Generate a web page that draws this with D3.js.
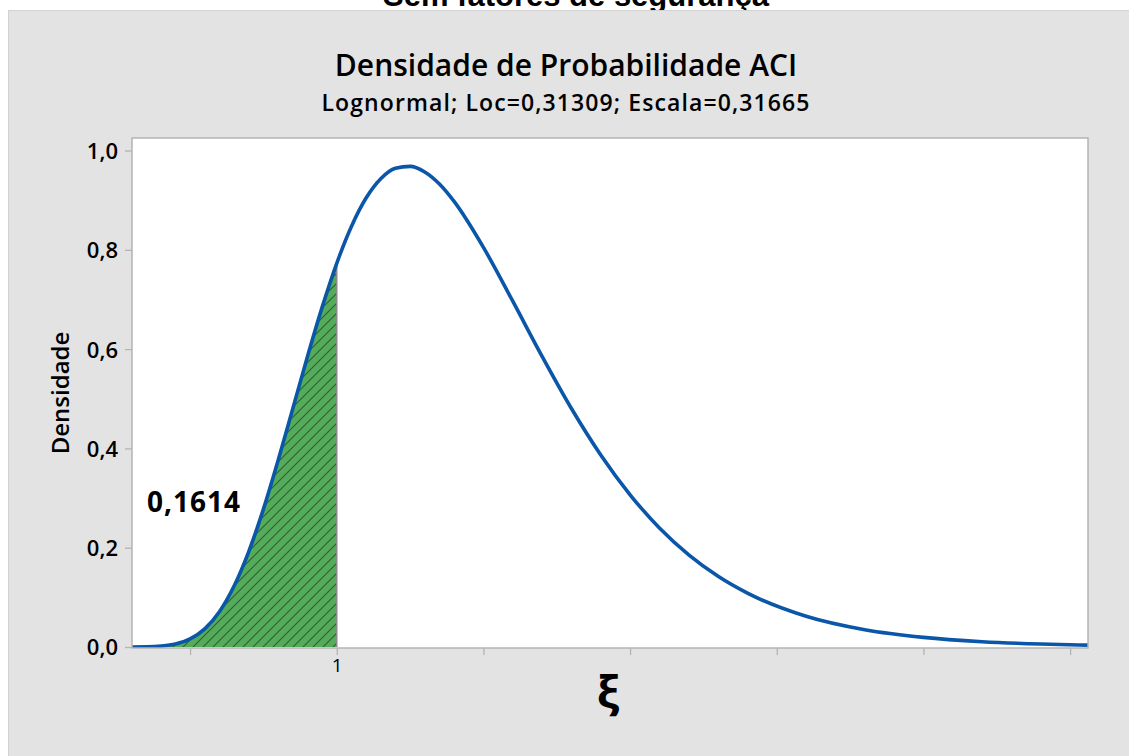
<!DOCTYPE html>
<html>
<head>
<meta charset="utf-8">
<script src="https://cdn.jsdelivr.net/npm/d3@7/dist/d3.min.js"></script>
<style>
  html, body { margin: 0; padding: 0; background: #ffffff; }
  svg { display: block; }
</style>
</head>
<body>
<svg id="chart" width="1129" height="756"></svg>
<script>
// Lognormal density curve (x = ξ, y = density)
const xValues = [0.302, 0.35, 0.40, 0.45, 0.50, 0.55, 0.60, 0.65, 0.70, 0.75, 0.80, 0.85, 0.90, 0.95, 1.00,
                 1.05, 1.10, 1.15, 1.20, 1.25, 1.30, 1.35, 1.40, 1.50, 1.60, 1.70, 1.80, 1.90, 2.00,
                 2.10, 2.20, 2.30, 2.40, 2.60, 2.80, 3.00, 3.20, 3.40, 3.561];
const densityValues = [0.0000, 0.0003, 0.0017, 0.0059, 0.0162, 0.0366, 0.0711, 0.1228, 0.1922, 0.2777, 0.3754, 0.4798, 0.5847, 0.6840, 0.7728,
                       0.8470, 0.9042, 0.9431, 0.9641, 0.9681, 0.9568, 0.9325, 0.8975, 0.8049, 0.6965, 0.5854, 0.4804, 0.3868, 0.3066,
                       0.2398, 0.1856, 0.1424, 0.1085, 0.0619, 0.0348, 0.0194, 0.0107, 0.0059, 0.0037];
const shadedLimit = 1.0;
const shadedArea = "0,1614";
const yTicks = [0, 0.2, 0.4, 0.6, 0.8, 1.0];
const xTicks = [0.5, 1.0, 1.5, 2.0, 2.5, 3.0, 3.5];
const xTickLabels = ["", "1", "", "", "", "", ""];

const svg = d3.select("#chart");
const W = 1129, H = 756;
const plot = { left: 132, top: 138, right: 1088, bottom: 648 };
const font = "Open Sans, sans-serif";

// Outer heading, partly hidden behind the panel
svg.append("text").attr("x", 576).attr("y", 6)
  .attr("text-anchor", "middle").attr("font-family", "Liberation Sans, Arial, sans-serif")
  .attr("font-weight", "bold").attr("font-size", 31).attr("fill", "#000")
  .text("Sem fatores de segurança");

// Panel
svg.append("rect").attr("x", 8.5).attr("y", 10.5).attr("width", W - 8).attr("height", H - 10)
  .attr("fill", "#e3e3e3").attr("stroke", "#d2d2d2").attr("stroke-width", 1);

const x = d3.scaleLinear().domain([0.302, 3.561]).range([plot.left, plot.right]);
const y = d3.scaleLinear().domain([0, 1]).range([647, 150.5]);

// Plot background
svg.append("rect").attr("x", plot.left).attr("y", plot.top)
  .attr("width", plot.right - plot.left).attr("height", plot.bottom - plot.top)
  .attr("fill", "#ffffff");

// Hatch pattern for the shaded tail
const defs = svg.append("defs");
const pat = defs.append("pattern").attr("id", "hatch").attr("patternUnits", "userSpaceOnUse")
  .attr("width", 10).attr("height", 10);
pat.append("rect").attr("width", 10).attr("height", 10).attr("fill", "#52ad58");
pat.append("path").attr("d", "M-2,2 L2,-2 M0,10 L10,0 M8,12 L12,8")
  .attr("stroke", "#474d47").attr("stroke-width", 1.1);
defs.append("clipPath").attr("id", "plotClip").append("rect")
  .attr("x", plot.left).attr("y", plot.top)
  .attr("width", plot.right - plot.left).attr("height", plot.bottom - plot.top);

const data = xValues.map((v, i) => ({ x: v, y: densityValues[i] }));
const tail = data.filter(d => d.x <= shadedLimit);

const g = svg.append("g").attr("clip-path", "url(#plotClip)");

g.append("path").datum(tail)
  .attr("d", d3.area().x(d => x(d.x)).y0(y(0)).y1(d => y(d.y)).curve(d3.curveMonotoneX))
  .attr("fill", "url(#hatch)");
g.append("line").attr("x1", x(shadedLimit)).attr("x2", x(shadedLimit))
  .attr("y1", y(0)).attr("y2", y(tail[tail.length - 1].y))
  .attr("stroke", "#8a8a8a").attr("stroke-width", 1.5);

g.append("path").datum(data)
  .attr("d", d3.line().x(d => x(d.x)).y(d => y(d.y)).curve(d3.curveMonotoneX))
  .attr("fill", "none").attr("stroke", "#0a56a8").attr("stroke-width", 3.6)
  .attr("stroke-linejoin", "round");

// Axes
const axisColor = "#b4b4b4";
const yAxis = svg.append("g").attr("transform", `translate(${plot.left},0)`)
  .call(d3.axisLeft(y).tickValues(yTicks).tickSize(7).tickPadding(7)
    .tickFormat(d => d3.format(".1f")(d).replace(".", ",")));
const xAxis = svg.append("g").attr("transform", `translate(0,${plot.bottom})`)
  .call(d3.axisBottom(x).tickValues(xTicks).tickSize(7).tickPadding(4)
    .tickFormat((d, i) => xTickLabels[i]));
[yAxis, xAxis].forEach(a => {
  a.select(".domain").remove();
  a.selectAll(".tick line").attr("stroke", axisColor).attr("stroke-width", 1.3);
});
yAxis.selectAll("text").attr("font-family", font).attr("font-weight", 600)
  .attr("font-size", 22).attr("fill", "#000").attr("dy", "0.36em");
xAxis.selectAll("text").attr("font-family", font)
  .attr("font-size", 19).attr("fill", "#000");

// Plot border
svg.append("rect").attr("x", plot.left).attr("y", plot.top)
  .attr("width", plot.right - plot.left).attr("height", plot.bottom - plot.top)
  .attr("fill", "none").attr("stroke", axisColor).attr("stroke-width", 1.5);

// Titles
svg.append("text").attr("x", 566).attr("y", 76).attr("text-anchor", "middle")
  .attr("font-family", font).attr("font-weight", 600).attr("font-size", 30)
  .attr("fill", "#000").text("Densidade de Probabilidade ACI");
svg.append("text").attr("x", 566).attr("y", 111).attr("text-anchor", "middle")
  .attr("font-family", font).attr("font-weight", 600).attr("font-size", 23)
  .attr("letter-spacing", 1.1)
  .attr("fill", "#000").text("Lognormal; Loc=0,31309; Escala=0,31665");

svg.append("text").attr("transform", "translate(69,393) rotate(-90)").attr("text-anchor", "middle")
  .attr("font-family", font).attr("font-weight", 600).attr("font-size", 24)
  .attr("fill", "#000").text("Densidade");

svg.append("text").attr("x", 608).attr("y", 708).attr("text-anchor", "middle")
  .attr("font-family", font).attr("font-weight", 700).attr("font-size", 45)
  .attr("fill", "#000").text("ξ");

svg.append("text").attr("x", 147).attr("y", 512)
  .attr("font-family", font).attr("font-weight", 700).attr("font-size", 28)
  .attr("letter-spacing", 1)
  .attr("fill", "#000").text(shadedArea);
</script>
</body>
</html>
